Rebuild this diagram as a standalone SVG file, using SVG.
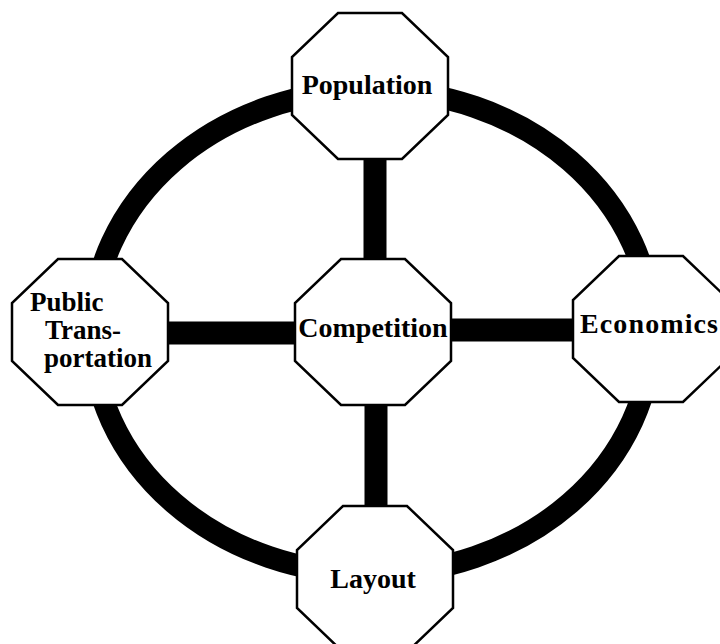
<svg xmlns="http://www.w3.org/2000/svg" width="720" height="644" viewBox="0 0 720 644">
  <defs>
    <style>
      .ring { fill: none; stroke: #000; stroke-width: 22; }
      .spoke { stroke: #000; stroke-width: 23; }
      .oct { fill: #fff; stroke: #000; stroke-width: 2.5; stroke-linejoin: miter; }
      .lbl { font-family: "Liberation Serif", "Times New Roman", serif; font-weight: bold; font-size: 28px; fill: #000; }
      .small { font-size: 27px; }
    </style>
    <polygon id="octagon" points="-32,-73 32,-73 78,-29 78,29 32,73 -32,73 -78,29 -78,-29"/>
  </defs>
  <rect width="720" height="644" fill="#fff"/>

  <g id="connectors">
    <ellipse class="ring" cx="372" cy="332" rx="280" ry="242"/>
    <line class="spoke" x1="375" y1="85" x2="375" y2="331"/>
    <line class="spoke" x1="376" y1="331" x2="376" y2="578"/>
    <line class="spoke" x1="90" y1="333" x2="373" y2="333"/>
    <line class="spoke" x1="373" y1="330" x2="651" y2="330"/>
  </g>

  <g id="population">
    <use href="#octagon" class="oct" x="370" y="86"/>
    <text class="lbl" x="367" y="94" text-anchor="middle">Population</text>
  </g>

  <g id="public-transportation">
    <use href="#octagon" class="oct" x="90" y="332"/>
    <text class="lbl small" x="30" y="311">Public</text>
    <text class="lbl small" x="45" y="339">Trans-</text>
    <text class="lbl small" x="44" y="367">portation</text>
  </g>

  <g id="competition">
    <use href="#octagon" class="oct" x="373" y="332"/>
    <text class="lbl" x="373" y="337" text-anchor="middle">Competition</text>
  </g>

  <g id="economics">
    <use href="#octagon" class="oct" x="651" y="329"/>
    <text class="lbl" x="580" y="333" textLength="138" lengthAdjust="spacing">Economics</text>
  </g>

  <g id="layout">
    <use href="#octagon" class="oct" x="375" y="579"/>
    <text class="lbl" x="373" y="588" text-anchor="middle">Layout</text>
  </g>
</svg>
